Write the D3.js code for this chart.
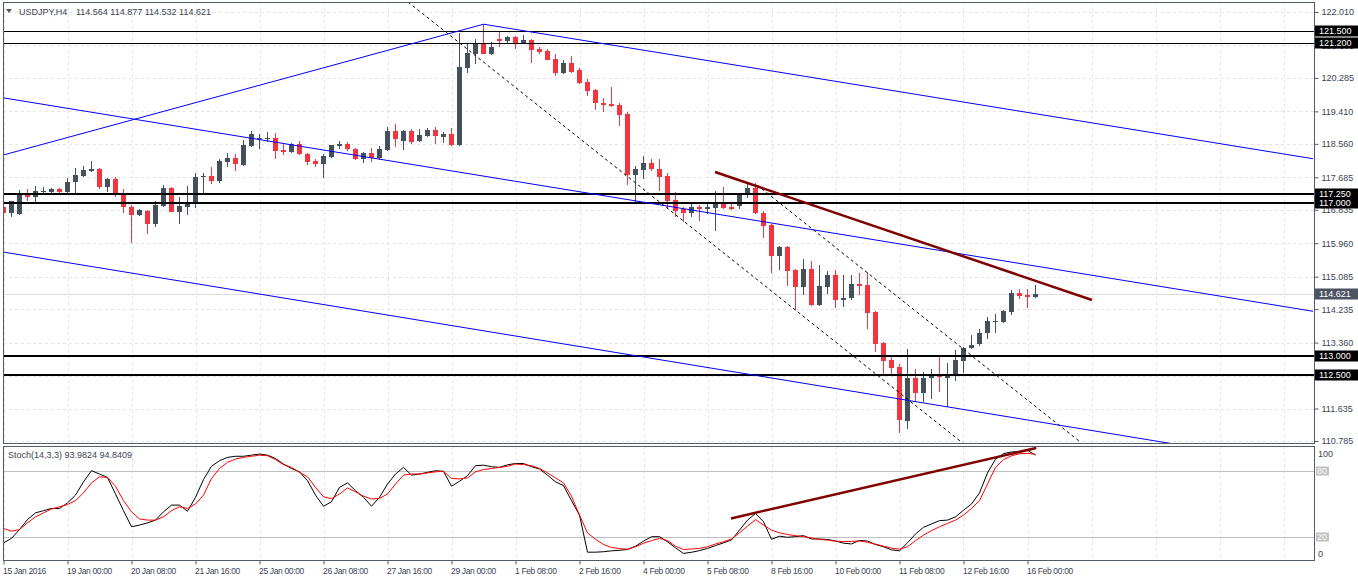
<!DOCTYPE html>
<html><head><meta charset="utf-8">
<script src="https://cdn.jsdelivr.net/npm/d3@7"></script>
<style>
html,body{margin:0;padding:0;background:#fff;overflow:hidden}
svg{display:block}
text{font-family:"Liberation Sans",Arial,sans-serif}
</style>
</head><body>
<svg id="c" width="1358" height="581"></svg>
<script>
// ---------------- data ----------------
const symbolTitle = "USDJPY,H4";
const lastQuote = ["114.564", "114.877", "114.532", "114.621"];
const timeLabels = ["15 Jan 2016","19 Jan 00:00","20 Jan 08:00","21 Jan 16:00","25 Jan 00:00","26 Jan 08:00","27 Jan 16:00","29 Jan 00:00","1 Feb 08:00","2 Feb 16:00","4 Feb 00:00","5 Feb 08:00","8 Feb 16:00","10 Feb 00:00","11 Feb 08:00","12 Feb 16:00","16 Feb 00:00"];
const barsPerLabel = 8;
const priceTicks = [122.010,121.135,120.285,119.410,118.560,117.685,116.835,115.960,115.085,114.235,113.360,112.485,111.635,110.785];
const opens = [
116.908,116.751,116.724,117.274,117.169,117.300,117.300,117.379,117.300,117.562,
117.719,117.850,117.902,117.431,117.640,117.274,116.908,116.698,116.803,116.463,
116.934,117.405,116.777,116.908,117.012,117.693,117.719,117.588,118.085,118.190,
118.007,118.504,118.687,118.700,118.713,118.399,118.347,118.556,118.294,118.111,
118.033,118.216,118.504,118.556,118.425,118.164,118.321,118.190,118.399,118.896,
118.635,118.896,118.635,118.765,118.922,118.739,118.818,118.530,120.545,120.911,
121.199,120.911,121.304,121.251,121.356,121.173,121.277,121.042,120.990,120.780,
120.414,120.676,120.492,120.178,119.969,119.629,119.603,119.577,119.341,117.745,
117.876,118.059,117.902,117.719,117.091,116.855,116.751,116.908,116.855,116.881,
117.012,116.908,116.934,117.222,117.405,116.751,116.437,115.626,115.861,115.259,
114.815,115.285,114.343,114.815,115.128,114.474,114.527,114.893,114.867,114.160,
113.349,112.904,112.721,111.308,112.433,112.041,112.433,112.512,112.433,112.486,
112.878,113.218,113.323,113.611,113.899,113.899,114.160,114.658,114.605,114.564];
const highs = [
117.169,117.065,117.352,117.379,117.457,117.431,117.405,117.405,117.666,117.928,
117.980,118.111,117.928,117.666,117.693,117.379,116.960,116.855,116.829,117.065,
117.483,117.431,117.169,117.457,117.797,117.797,117.954,118.164,118.321,118.294,
118.661,118.896,118.818,118.870,118.844,118.556,118.582,118.635,118.321,118.164,
118.294,118.530,118.635,118.608,118.451,118.347,118.451,118.504,119.001,119.079,
118.922,118.949,118.949,118.975,119.001,118.870,118.975,121.461,121.199,121.304,
121.696,121.225,121.487,121.382,121.382,121.408,121.304,121.094,121.042,120.911,
120.754,120.859,120.545,120.257,119.995,119.760,120.048,119.629,119.393,117.980,
118.242,118.164,118.164,117.797,117.300,116.908,116.986,116.960,117.012,117.326,
117.431,117.012,117.274,117.509,117.536,116.803,116.463,115.887,115.887,115.285,
115.547,115.495,115.390,115.233,115.259,115.128,115.128,115.181,115.207,114.187,
113.375,113.035,112.799,113.192,112.669,112.590,112.669,113.035,112.825,113.166,
113.244,113.558,113.715,114.029,114.108,114.213,114.736,114.762,114.762,114.877];
const lows = [
116.489,116.646,116.698,117.065,117.012,117.248,117.274,117.248,117.274,117.248,
117.693,117.823,117.379,117.300,117.169,116.751,115.966,116.672,116.201,116.384,
116.908,116.777,116.463,116.698,116.881,117.274,117.509,117.536,117.954,117.850,
117.980,118.478,118.425,118.608,118.164,118.268,118.321,118.268,118.007,117.954,
117.666,118.190,118.425,118.373,118.137,118.059,118.085,118.137,118.373,118.478,
118.399,118.556,118.608,118.739,118.556,118.582,118.504,118.504,120.414,120.649,
120.911,120.885,121.094,121.173,121.042,121.160,120.676,120.911,120.741,120.335,
120.388,120.414,120.126,119.812,119.446,119.393,119.524,119.027,117.483,117.039,
117.640,117.850,117.326,116.855,116.646,116.515,116.646,116.541,116.724,116.280,
116.855,116.829,116.855,117.143,116.724,116.097,115.181,115.259,114.841,114.213,
114.605,114.317,114.317,114.631,114.265,114.291,114.474,114.605,113.715,113.113,
112.512,112.512,110.994,111.099,111.805,111.805,111.884,112.067,111.675,112.355,
112.564,113.192,113.270,113.454,113.611,113.872,114.082,114.501,114.265,114.532];
const closes = [
116.751,117.065,117.274,117.169,117.326,117.326,117.379,117.300,117.562,117.745,
117.876,117.902,117.431,117.640,117.248,116.908,116.698,116.829,116.463,116.960,
117.405,116.777,116.934,117.012,117.693,117.719,117.588,118.111,118.190,118.033,
118.530,118.818,118.713,118.721,118.373,118.347,118.556,118.294,118.085,118.033,
118.242,118.530,118.556,118.425,118.164,118.321,118.190,118.425,118.896,118.687,
118.896,118.608,118.792,118.922,118.765,118.818,118.530,120.571,120.937,121.199,
120.911,121.094,121.251,121.356,121.173,121.277,121.016,120.963,120.754,120.414,
120.676,120.440,120.152,119.943,119.629,119.577,119.550,119.315,117.745,117.902,
118.059,117.902,117.693,117.065,116.803,116.751,116.908,116.855,116.908,117.012,
116.881,116.855,117.248,117.405,116.751,116.410,115.626,115.861,115.233,114.815,
115.285,114.343,114.841,115.128,114.474,114.527,114.893,114.841,114.134,113.323,
112.878,112.695,111.334,112.433,112.041,112.433,112.512,112.459,112.512,112.904,
113.218,113.297,113.611,113.925,113.925,114.187,114.658,114.579,114.553,114.621];
const stochK = [
15,19,27,36,42,44,46,46,51,58,
70,80,77,74,59,44,29.5,31,33,35.5,
43,49,49,43.5,56,72,84,89,92,93,
93,94,95,94,91,86,82,79,71,58,
48,52,65,69,62,56,48,56,68,77,
83,76,77,78.5,80,79.4,66,70.5,75.5,84.5,
85,83.6,83,85.3,86.5,86.5,83.6,81.5,76,70,
66.6,53,40,6.6,6.6,7,7.8,8.3,9,12,
16.5,20.5,20.6,16,10.5,5.5,6.5,8,10,12.5,
15,17.6,26.5,35.5,41.4,34,18.2,21,20,20.6,
21.5,18.5,18.5,18,16.7,14.7,14,17.2,16.6,13.5,
11.5,8.7,7.8,15,23,29,32,35,35.5,38.4,
44.4,50,60,78,90.4,95.4,96.9,97.2,98.4,93.98];
const stochD = [
28,25.5,27,33,38.5,42,45.5,47.5,49.5,53,
60,69,74.5,74,66,53,43,36.5,35.5,35.5,
38.5,44,47.5,46,50,58,73,82,87.5,90.5,
92,93,94,93.5,90,85.5,83,78.5,74.5,65,
56.5,54.8,59,64.5,61,57,54.5,55,59,68,
76,77,77,78,79,79.4,73,72.6,73.5,79,
81,82,83,84,86,85.5,84.5,82,78,73.5,
69,57,40,24,18.2,13.5,10.8,9.8,9.3,11.5,
14.7,17,19,17,12,9,9.5,10,11.5,14,
16,18.5,24,30,36,31,26.5,24,22.5,21.5,
20.6,19.5,18,17.5,16.5,16.1,16.3,16.7,15.5,13.8,
12,10.2,9.3,11.5,17,22,26,29.5,32.5,35.5,
40,46,53,68,83,90,93.4,95.3,95.6,94.84];
const stochLegend = "Stoch(14,3,3) 93.9824 94.8409";
const stochLevels = [80, 20];
const stochBounds = [100, 0];
const levelsThin = [121.5, 121.2];
const levelsThick = [117.25, 117.0, 113.0, 112.5];
// trend objects as [barIndex, price] anchor pairs
const channelUp  = [[-0.06, 118.266], [60, 121.69]];
const channelTop = [[60, 121.69], [163.7, 118.17]];
const channelMid = [[-0.06, 119.765], [163.7, 114.179]];
const channelLow = [[-0.06, 115.73], [163.7, 110.11]];
const dashA = [[50.56, 122.272], [119.89, 110.733]];
const dashB = [[94.19, 117.483], [134.56, 110.764]];
const trendPrice = [[88.94, 117.823], [136.06, 114.474]];
const trendStoch = [[90.94, 37], [129.1, 100.5]];

// ---------------- drawing ----------------
const svg = d3.select("#c");
const L = 3, R = 1314, T = 2, B = 443, ST = 446, SB = 560;
const txt = "#3a4452", frame = "#515c67";
const bull = "#45505e", bear = "#f3353f";
const x = d3.scaleLinear().domain([0, 129]).range([3.5, 1035.5]);
const y = d3.scaleLinear().domain([110.785, 122.010]).range([441, 12]);
const ys = d3.scaleLinear().domain([0, 100]).range([559.5, 448.5]);

svg.append("rect").attr("width", 1358).attr("height", 581).attr("fill", "#fff");
const defs = svg.append("defs");
defs.append("clipPath").attr("id", "cm").append("rect").attr("x", L).attr("y", T).attr("width", R - L).attr("height", B - T);
defs.append("clipPath").attr("id", "cs").append("rect").attr("x", L).attr("y", ST).attr("width", R - L).attr("height", SB - ST);

// grid
const gridIdx = d3.range(0, 200, barsPerLabel).filter(k => x(k) < R);
const grid = svg.append("g").attr("stroke", "#e4e4e4").attr("stroke-dasharray", "3,3").attr("shape-rendering", "crispEdges");
gridIdx.forEach(k => {
  grid.append("line").attr("x1", Math.round(x(k)) + 0.5).attr("x2", Math.round(x(k)) + 0.5).attr("y1", T).attr("y2", B);
  grid.append("line").attr("x1", Math.round(x(k)) + 0.5).attr("x2", Math.round(x(k)) + 0.5).attr("y1", ST).attr("y2", SB);
});
priceTicks.forEach(v => {
  const yy = Math.round(y(v)) + 0.5;
  grid.append("line").attr("x1", L).attr("x2", R).attr("y1", yy).attr("y2", yy);
});

// bid line
svg.append("line").attr("x1", L).attr("x2", R)
  .attr("y1", Math.round(y(+lastQuote[3])) + 0.5).attr("y2", Math.round(y(+lastQuote[3])) + 0.5)
  .attr("stroke", "#dcdcdc").attr("shape-rendering", "crispEdges");

// candles
const cg = svg.append("g").attr("clip-path", "url(#cm)");
opens.forEach((o, i) => {
  const c = closes[i], up = c >= o, col = up ? bull : bear;
  const cx = x(i);
  cg.append("line").attr("x1", cx).attr("x2", cx).attr("y1", y(highs[i])).attr("y2", y(lows[i]))
    .attr("stroke", col).attr("stroke-width", 1).attr("shape-rendering", "crispEdges");
  const top = Math.round(y(Math.max(o, c))), bot = Math.round(y(Math.min(o, c)));
  cg.append("rect").attr("x", cx - 2.5).attr("y", top).attr("width", 5).attr("height", Math.max(1, bot - top))
    .attr("fill", col).attr("shape-rendering", "crispEdges");
});

// horizontal levels
const lg = svg.append("g").attr("clip-path", "url(#cm)").attr("shape-rendering", "crispEdges");
levelsThin.forEach(v => lg.append("line").attr("x1", L).attr("x2", R).attr("y1", Math.round(y(v)) + 0.5).attr("y2", Math.round(y(v)) + 0.5).attr("stroke", "#000").attr("stroke-width", 1));
levelsThick.forEach(v => lg.append("line").attr("x1", L).attr("x2", R).attr("y1", Math.round(y(v))).attr("y2", Math.round(y(v))).attr("stroke", "#000").attr("stroke-width", 2));

// trend objects
const line = d3.line().x(d => x(d[0])).y(d => y(d[1]));
const og = svg.append("g").attr("clip-path", "url(#cm)").attr("fill", "none");
[channelUp, channelTop, channelMid, channelLow].forEach(d => og.append("path").attr("d", line(d)).attr("stroke", "#0000ff").attr("stroke-width", 1));
[dashA, dashB].forEach(d => og.append("path").attr("d", line(d)).attr("stroke", "#000").attr("stroke-width", 1).attr("stroke-dasharray", "3,3"));
og.append("path").attr("d", line(trendPrice)).attr("stroke", "#800000").attr("stroke-width", 2.5);

// stochastic
const sg = svg.append("g").attr("clip-path", "url(#cs)").attr("fill", "none");
stochLevels.forEach(v => sg.append("line").attr("x1", L).attr("x2", R).attr("y1", Math.round(ys(v)) + 0.5).attr("y2", Math.round(ys(v)) + 0.5).attr("stroke", "#c0c0c0").attr("shape-rendering", "crispEdges"));
const sline = d3.line().x((d, i) => x(i)).y(d => ys(d));
sg.append("path").attr("d", sline(stochK)).attr("stroke", "#000").attr("stroke-width", 1);
sg.append("path").attr("d", sline(stochD)).attr("stroke", "#ff0000").attr("stroke-width", 1);
sg.append("path").attr("d", d3.line().x(d => x(d[0])).y(d => ys(d[1]))(trendStoch)).attr("stroke", "#800000").attr("stroke-width", 2.5);

// frames
svg.append("rect").attr("x", L + 0.5).attr("y", T + 0.5).attr("width", R - L).attr("height", B - T).attr("fill", "none").attr("stroke", frame).attr("shape-rendering", "crispEdges");
svg.append("rect").attr("x", L + 0.5).attr("y", ST + 0.5).attr("width", R - L).attr("height", SB - ST).attr("fill", "none").attr("stroke", frame).attr("shape-rendering", "crispEdges");

// price axis
const pa = svg.append("g").attr("transform", `translate(${R + 0.5},0)`)
  .call(d3.axisRight(y).tickValues(priceTicks).tickFormat(d3.format(".3f")).tickSize(4).tickPadding(3));
pa.select(".domain").remove();
pa.selectAll(".tick line").attr("stroke", frame);
pa.selectAll(".tick text").attr("fill", txt).attr("font-size", 9).attr("font-family", "Liberation Sans, Arial, sans-serif");

// time axis
const ta = svg.append("g").attr("transform", `translate(0,${SB + 0.5})`)
  .call(d3.axisBottom(x).tickValues(timeLabels.map((_, i) => i * barsPerLabel)).tickFormat((d, i) => timeLabels[i]).tickSize(4).tickPadding(3));
ta.select(".domain").remove();
ta.selectAll(".tick line").attr("stroke", frame);
ta.selectAll(".tick text").attr("fill", txt).attr("font-size", 8.5).attr("letter-spacing", "-0.35px")
  .attr("text-anchor", "start").attr("dx", "-1").attr("font-family", "Liberation Sans, Arial, sans-serif");

// level labels
function tag(v, fill) {
  const yy = Math.round(y(v));
  svg.append("rect").attr("x", R + 1).attr("y", yy - 5.5).attr("width", 44).attr("height", 11).attr("fill", fill);
  svg.append("text").attr("x", R + 5).attr("y", yy + 3.3).attr("fill", "#fff").attr("font-size", 9).text(d3.format(".3f")(v));
}
levelsThin.concat(levelsThick).forEach(v => tag(v, "#000"));
tag(+lastQuote[3], "#4b5561");

// stoch axis labels
stochBounds.forEach(v => svg.append("text").attr("x", R + 4).attr("y", v === 100 ? 457 : 557).attr("fill", txt).attr("font-size", 9).text(v));
stochLevels.forEach(v => {
  const yy = Math.round(ys(v));
  svg.append("rect").attr("x", R + 2).attr("y", yy - 4.5).attr("width", 13).attr("height", 9).attr("fill", "#c0c0c0");
  svg.append("text").attr("x", R + 3).attr("y", yy + 3.2).attr("fill", "#fff").attr("font-size", 9).text(v);
});

// header
svg.append("path").attr("d", "M6,9 L12,9 L9,13 Z").attr("fill", "#555");
svg.append("text").attr("x", 19).attr("y", 15).attr("fill", txt).attr("font-size", 9).text(symbolTitle);
svg.append("text").attr("x", 76).attr("y", 15).attr("fill", txt).attr("font-size", 9).text(lastQuote.join(" "));
svg.append("text").attr("x", 8).attr("y", 458).attr("fill", txt).attr("font-size", 9).text(stochLegend);
</script>
</body></html>
